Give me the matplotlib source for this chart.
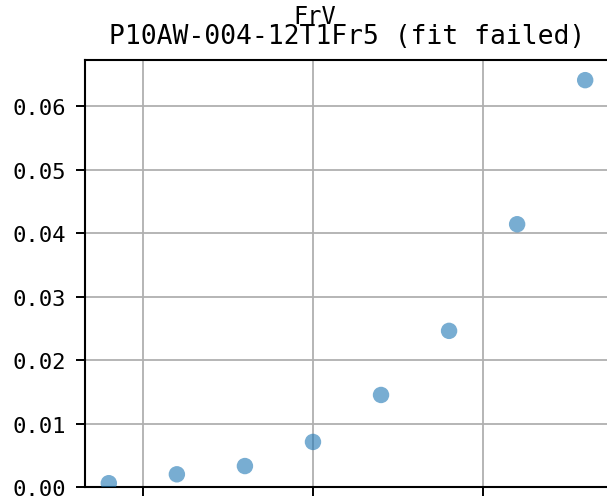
import matplotlib
matplotlib.use("Agg")
import matplotlib.pyplot as plt

plt.rcParams['font.family'] = ['DejaVu Sans Mono', 'DejaVu Sans']

x_vals = [40, 60, 80, 100, 120, 140, 160, 180]
y_vals = [0.0006, 0.0020, 0.0033, 0.0071, 0.0145, 0.0246, 0.0414, 0.0641]
x_ticks = [50, 100, 150]
y_ticks = [0, 0.01, 0.02, 0.03, 0.04, 0.05, 0.06]
suptitle = "FrV"
title = "P10AW-004-12T1Fr5 (fit failed)"

fig = plt.figure(figsize=(6.07, 5.02), dpi=100)
ax = fig.add_axes([85/607, 14/502, 524/607, 427/502])
ax.scatter(x_vals, y_vals, s=140, color='tab:blue', alpha=0.6, edgecolors='none', zorder=3)
ax.set_ylim(bottom=0)
ax.set_xticks(x_ticks)
ax.set_yticks(y_ticks)
ax.set_yticklabels([f"{v:.2f}" for v in y_ticks])
ax.grid(True, color='#b0b0b0', linewidth=1.3)
ax.set_axisbelow(True)
ax.tick_params(axis='both', labelsize=16, length=6.5, width=1.4, pad=7)
ax.tick_params(axis='x', labelbottom=False)
for s in ax.spines.values():
    s.set_linewidth(1.5)
ax.set_title(title, fontsize=19, pad=12)
fig.text(315/607, 1 - 24/502, suptitle, fontsize=17, ha='center', va='baseline',
         family=['DejaVu Sans Mono'])
fig.savefig("out.png", dpi=100)
